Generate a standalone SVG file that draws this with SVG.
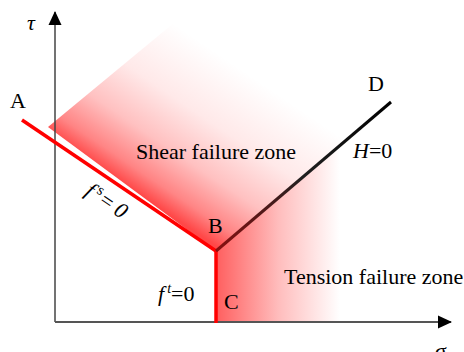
<svg xmlns="http://www.w3.org/2000/svg" width="464" height="352" viewBox="0 0 464 352">
<style>
.t{font-family:"Liberation Serif","Times New Roman",serif;font-size:22px;fill:#000}
.i{font-style:italic}
</style>
<defs>
<linearGradient id="gShear" gradientUnits="userSpaceOnUse" x1="132" y1="189" x2="222" y2="56">
<stop offset="0" stop-color="#ff2020" stop-opacity="0.82"/>
<stop offset="0.12" stop-color="#ff2020" stop-opacity="0.55"/>
<stop offset="0.34" stop-color="#ff2020" stop-opacity="0.28"/>
<stop offset="0.62" stop-color="#ff2020" stop-opacity="0.1"/>
<stop offset="1" stop-color="#ff2020" stop-opacity="0"/>
</linearGradient>
<linearGradient id="gTension" gradientUnits="userSpaceOnUse" x1="216" y1="0" x2="340" y2="0">
<stop offset="0" stop-color="#ff2020" stop-opacity="0.72"/>
<stop offset="0.5" stop-color="#ff2020" stop-opacity="0.3"/>
<stop offset="1" stop-color="#ff2020" stop-opacity="0"/>
</linearGradient>
<linearGradient id="gBD" gradientUnits="userSpaceOnUse" x1="216" y1="251" x2="391" y2="102">
<stop offset="0" stop-color="#8a1010"/>
<stop offset="0.5" stop-color="#202020"/>
<stop offset="1" stop-color="#000"/>
</linearGradient>
<marker id="arrY" markerWidth="14" markerHeight="14" refX="13" refY="7" orient="auto" markerUnits="userSpaceOnUse" viewBox="0 0 14 14">
<path d="M0,0.5 L14,7 L0,13.5 Z" fill="#000"/>
</marker>
</defs>
<g id="zones">
<polygon points="48,127 216,251 390,103 300,-40 175,22" fill="url(#gShear)"/>
<polygon points="216,251 345,141 345,322 216,322" fill="url(#gTension)"/>
</g>
<g id="axes">
<line x1="55" y1="322" x2="55" y2="12" stroke="#444" stroke-width="1.5" marker-end="url(#arrY)"/>
<line x1="55" y1="322" x2="451" y2="322" stroke="#555" stroke-width="2" marker-end="url(#arrY)"/>
</g>
<g id="connectors">
<line x1="22" y1="120" x2="216" y2="251" stroke="#ff0000" stroke-width="3.5"/>
<line x1="216" y1="250" x2="216" y2="323" stroke="#ff0000" stroke-width="3.5"/>
<line x1="216" y1="251" x2="391" y2="102" stroke="url(#gBD)" stroke-width="3"/>
</g>
<g id="labels">
<text class="t i" x="27" y="30">τ</text>
<text class="t i" x="435" y="358">σ</text>
<text class="t" x="10" y="108">A</text>
<text class="t" x="208" y="233">B</text>
<text class="t" x="224" y="309">C</text>
<text class="t" x="368" y="91">D</text>
<text class="t" x="136" y="159">Shear failure zone</text>
<text class="t" x="284" y="284">Tension failure zone</text>
<text class="t" x="353" y="158"><tspan class="i">H</tspan>=0</text>
<text class="t" x="158" y="301"><tspan class="i">f</tspan><tspan font-size="14" dx="3" dy="-8" class="i">t</tspan><tspan dy="8">=0</tspan></text>
<text class="t" transform="translate(84,194) rotate(34)"><tspan class="i">f</tspan><tspan font-size="15" dx="3" dy="-8">s</tspan><tspan dx="2" dy="8">=</tspan><tspan class="i" dx="5">0</tspan></text>
</g>
</svg>
